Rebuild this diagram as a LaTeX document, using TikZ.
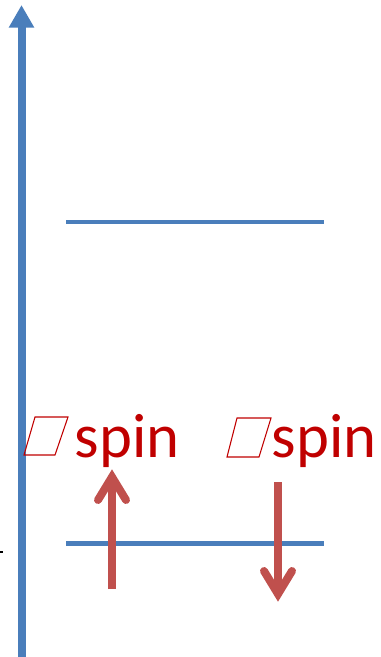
\documentclass[tikz,border=0pt]{standalone}
\usepackage{fontspec}
\newfontfamily\labelfont{Carlito}
\usetikzlibrary{arrows.meta}
\definecolor{axisblue}{HTML}{4A7EBB}
\definecolor{spinred}{HTML}{C0504D}
\definecolor{textred}{HTML}{C00000}
\tikzset{
  energyaxis/.style={draw=axisblue, line width=6pt, -{Triangle[length=17pt,width=18pt]}},
  level/.style={draw=axisblue, line width=3.5pt},
  spinshaft/.style={draw=spinred, line width=6pt},
  spinhead/.style={draw=spinred, line width=6pt, line cap=round, line join=miter},
  spinlabel/.style={text=textred, font=\labelfont\fontsize{47pt}{52pt}\selectfont, anchor=base west, inner sep=0pt},
  glyphbox/.style={draw=textred, line width=0.8pt}
}
\begin{document}
\begin{tikzpicture}[x=0.75pt, y=-0.75pt]
  \useasboundingbox (0,0) rectangle (381,657);

  % energy axis
  \coordinate (axisbottom) at (21.5,657);
  \coordinate (axistop) at (21.5,5);
  \draw[energyaxis] (axisbottom) -- (axistop);
  \draw[black, line width=0.8pt] (0,552) -- (3,552);

  % energy levels
  \coordinate (upperL) at (66,222);
  \coordinate (upperR) at (324,222);
  \coordinate (lowerL) at (66,543.5);
  \coordinate (lowerR) at (324,543.5);
  \draw[level] (upperL) -- (upperR);
  \draw[level] (lowerL) -- (lowerR);

  % spin labels
  \draw[glyphbox] (35,417) -- (68,417) -- (55,455) -- (24,455) -- cycle;
  \node[spinlabel] (labA) at (74.5,457) {spin};
  \draw[glyphbox] (237,418) -- (271,418) -- (259,457) -- (227,457) -- cycle;
  \node[spinlabel] (labB) at (271.5,457) {spin};

  % spin up arrow
  \coordinate (upbase) at (112,589);
  \coordinate (uptip) at (112,477);
  \draw[spinshaft] (upbase) -- (112,480);
  \draw[spinhead] (98,500) -- (uptip) -- (126,500);

  % spin down arrow
  \coordinate (downbase) at (278,482);
  \coordinate (downtip) at (278,594);
  \draw[spinshaft] (downbase) -- (278,591);
  \draw[spinhead] (264,571) -- (downtip) -- (292,571);
\end{tikzpicture}
\end{document}
